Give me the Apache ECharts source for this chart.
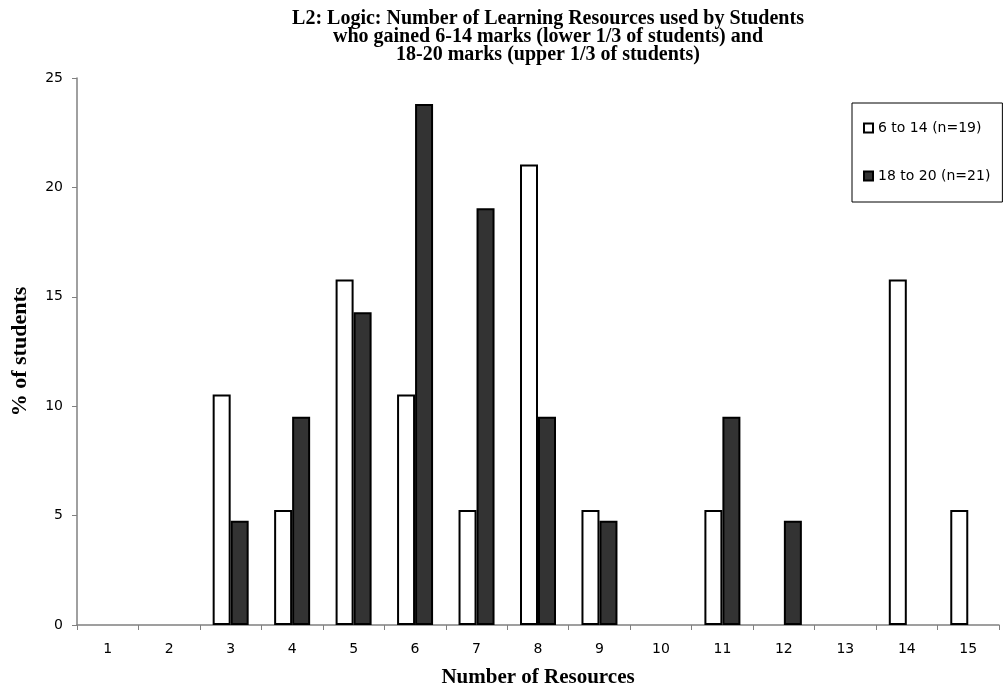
<!DOCTYPE html>
<html>
<head>
<meta charset="utf-8">
<script src="https://cdn.jsdelivr.net/npm/echarts@6/dist/echarts.min.js"></script>
<style>
html,body{margin:0;padding:0;background:#fff;}
#chart{width:1003px;height:687px;}
</style>
</head>
<body>
<div id="chart"></div>
<script>
// Number of learning resources (1..15)
const categories = ['1','2','3','4','5','6','7','8','9','10','11','12','13','14','15'];
// % of students, lower third (6-14 marks, n=19)
const lowerGroup = [0, 0, 10.53, 5.26, 15.79, 10.53, 5.26, 21.05, 5.26, 0, 5.26, 0, 0, 15.79, 5.26];
// % of students, upper third (18-20 marks, n=21)
const upperGroup = [0, 0, 4.76, 9.52, 14.29, 23.81, 19.05, 9.52, 4.76, 0, 9.52, 4.76, 0, 0, 0];
const seriesNames = ['6 to 14 (n=19)', '18 to 20 (n=21)'];

// zero shares are left empty so no outlined stub is drawn on the axis
const asBars = arr => arr.map(v => (v === 0 ? '-' : v));

const chart = echarts.init(document.getElementById('chart'));
const serif = '"Liberation Serif","Times New Roman",serif';
const sans = '"DejaVu Sans",Verdana,sans-serif';

chart.setOption({
  animation: false,
  title: {
    text: 'L2: Logic: Number of Learning Resources used by Students\nwho gained 6-14 marks (lower 1/3 of students) and\n18-20 marks (upper 1/3 of students)',
    left: 543, top: 5, textAlign: 'center',
    textStyle: { fontFamily: serif, fontWeight: 'bold', fontSize: 20, lineHeight: 18, color: '#000' }
  },
  legend: {
    orient: 'vertical',
    left: 852, top: 103,
    padding: [18, 12, 19, 11],
    itemGap: 34,
    itemWidth: 9, itemHeight: 9,
    borderColor: '#000', borderWidth: 1,
    icon: 'rect',
    textStyle: { fontFamily: sans, fontSize: 14, color: '#000' },
    data: seriesNames
  },
  grid: { left: 77, right: 4, top: 78, bottom: 62, containLabel: false, outerBoundsMode: 'none' },
  xAxis: {
    type: 'category',
    data: categories,
    name: 'Number of Resources',
    nameLocation: 'middle', nameGap: 42,
    nameTextStyle: { fontFamily: serif, fontWeight: 'bold', fontSize: 21, color: '#000' },
    axisLine: { lineStyle: { color: '#808080', width: 1.5 } },
    axisTick: { show: true, alignWithLabel: false, length: 5, lineStyle: { color: '#808080' } },
    axisLabel: { fontFamily: sans, fontSize: 14, color: '#000', margin: 17 }
  },
  yAxis: {
    type: 'value',
    min: 0, max: 25, interval: 5,
    name: '% of students',
    nameLocation: 'middle', nameGap: 46, nameRotate: 90,
    nameTextStyle: { fontFamily: serif, fontWeight: 'bold', fontSize: 22, color: '#000' },
    axisLine: { show: true, lineStyle: { color: '#808080', width: 1.5 } },
    axisTick: { show: true, inside: false, length: 5, lineStyle: { color: '#808080' } },
    axisLabel: { fontFamily: sans, fontSize: 14, color: '#000', margin: 14 },
    splitLine: { show: false }
  },
  series: [
    {
      name: seriesNames[0], type: 'bar', data: asBars(lowerGroup),
      barWidth: 18, barGap: '0%',
      itemStyle: { color: '#fff', borderColor: '#000', borderWidth: 2 }
    },
    {
      name: seriesNames[1], type: 'bar', data: asBars(upperGroup),
      barWidth: 18, barGap: '0%',
      itemStyle: { color: '#333', borderColor: '#000', borderWidth: 2 }
    }
  ]
});
</script>
</body>
</html>
